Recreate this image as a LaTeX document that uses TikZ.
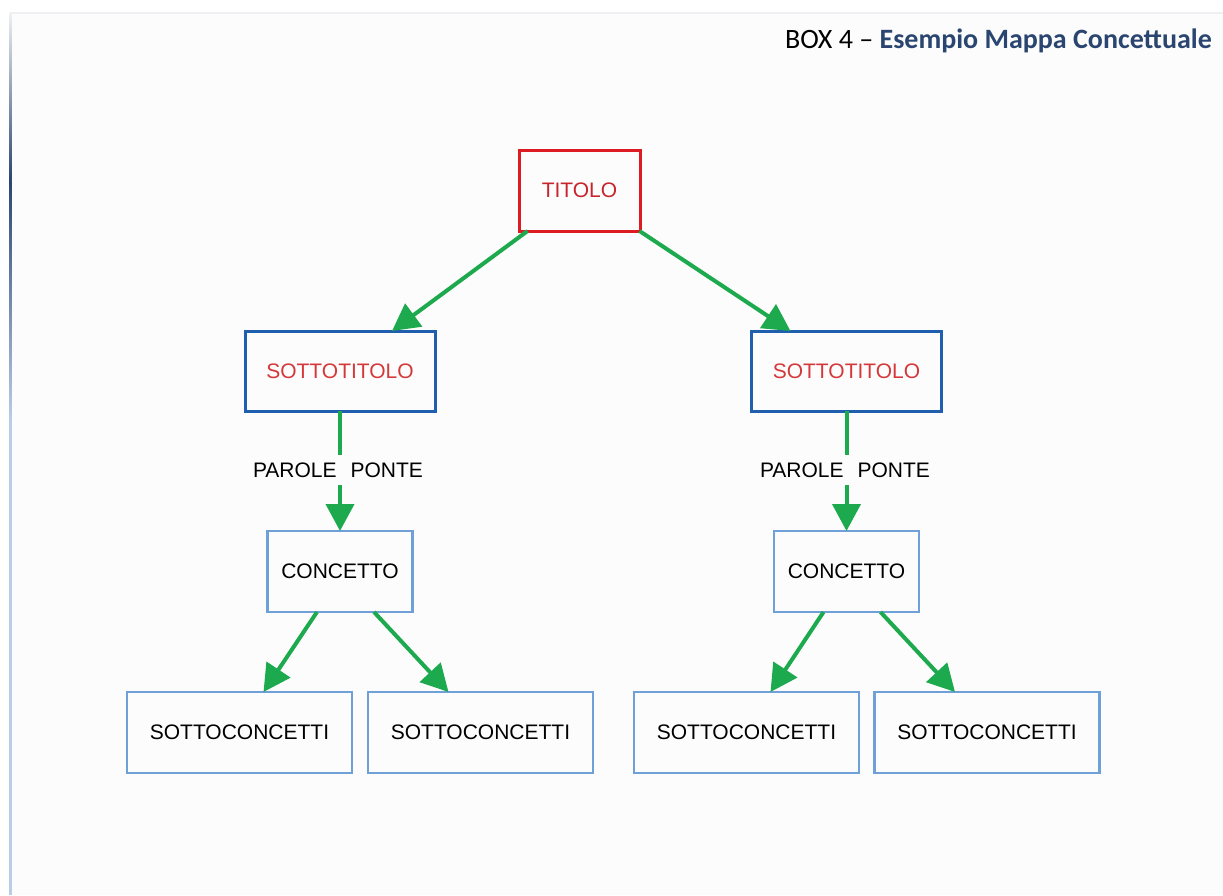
\documentclass[tikz,border=0pt]{standalone}
\usepackage{fontspec}
\setmainfont{Liberation Sans}
\newfontfamily\titlefont{Carlito}
\usetikzlibrary{arrows.meta}
\definecolor{titred}{HTML}{DC1C22}
\definecolor{titredtext}{HTML}{C8242C}
\definecolor{subblue}{HTML}{1F5FAE}
\definecolor{subred}{HTML}{D4383A}
\definecolor{conblue}{HTML}{6FA0D8}
\definecolor{arrgreen}{HTML}{1DAA4E}
\definecolor{navy}{HTML}{2A4670}
\definecolor{barlight}{HTML}{B9CDE8}
\definecolor{framegray}{HTML}{EEF0F3}
\tikzset{
  boxtext/.style={font=\fontsize{21}{25}\selectfont},
  titbox/.style={draw=titred, line width=3pt, minimum width=121pt, minimum height=81pt, inner sep=0pt, outer sep=0pt, text=titredtext, boxtext},
  subbox/.style={draw=subblue, line width=3pt, minimum width=190pt, minimum height=80pt, inner sep=0pt, outer sep=0pt, text=subred, boxtext},
  conbox/.style={draw=conblue, line width=2.2pt, minimum width=145pt, minimum height=81pt, inner sep=0pt, outer sep=0pt, text=black, boxtext},
  sconbox/.style={draw=conblue, line width=2.2pt, minimum width=225pt, minimum height=81pt, inner sep=0pt, outer sep=0pt, text=black, boxtext},
  bridge/.style={text=black, boxtext, inner sep=0pt, minimum height=30pt},
  conn/.style={draw=arrgreen, line width=4pt, -{Triangle[length=27pt,width=28pt]}},
  plain/.style={draw=arrgreen, line width=4pt}
}
\begin{document}
\begin{tikzpicture}[x=1pt,y=-1pt]
\useasboundingbox (0,0) rectangle (1223,895);
\fill[white] (0,0) rectangle (1223,895);
\fill[black!1] (10,13) rectangle (1223,895);
\draw[framegray, line width=2pt] (10,13) -- (1223,13);
\shade[top color=framegray, bottom color=navy] (9,13) rectangle (11.5,180);
\shade[top color=navy, bottom color=barlight] (9,180) rectangle (11.5,420);
\fill[barlight] (9,420) rectangle (11.5,895);
\node[anchor=base east, font=\titlefont\fontsize{28}{33}\selectfont, inner sep=0pt] (title) at (1212,48) {BOX 4 – \textbf{\color{navy}Esempio Mappa Concettuale}};

\node[titbox] (tit) at (579.5,190.5) {TITOLO};
\node[subbox] (sl) at (340,371) {SOTTOTITOLO};
\node[subbox] (sr) at (846.5,371) {SOTTOTITOLO};
\node[bridge] (pl) at (338,470) {PAROLE\hspace{14pt}PONTE};
\node[bridge] (pr) at (845,470) {PAROLE\hspace{14pt}PONTE};
\node[conbox] (cl) at (340,571.5) {CONCETTO};
\node[conbox] (cr) at (846.5,571.5) {CONCETTO};
\node[sconbox] (s1) at (239.5,732.5) {SOTTOCONCETTI};
\node[sconbox] (s2) at (480.5,732.5) {SOTTOCONCETTI};
\node[sconbox] (s3) at (746.5,732.5) {SOTTOCONCETTI};
\node[sconbox] (s4) at (987,732.5) {SOTTOCONCETTI};

\draw[conn] ([xshift=-52pt]tit.south) -- ([xshift=52pt]sl.north);
\draw[conn] ([xshift=60pt]tit.south) -- ([xshift=-56pt]sr.north);
\draw[plain] (sl.south) -- ([xshift=2pt]pl.north);
\draw[conn] ([xshift=2pt]pl.south) -- (cl.north);
\draw[plain] (sr.south) -- ([xshift=1.5pt]pr.north);
\draw[conn] ([xshift=1.5pt]pr.south) -- (cr.north);
\draw[conn] ([xshift=-23pt]cl.south) -- ([xshift=24pt]s1.north);
\draw[conn] ([xshift=34pt]cl.south) -- ([xshift=-32pt]s2.north);
\draw[conn] ([xshift=-23pt]cr.south) -- ([xshift=24pt]s3.north);
\draw[conn] ([xshift=34pt]cr.south) -- ([xshift=-32pt]s4.north);
\end{tikzpicture}
\end{document}
